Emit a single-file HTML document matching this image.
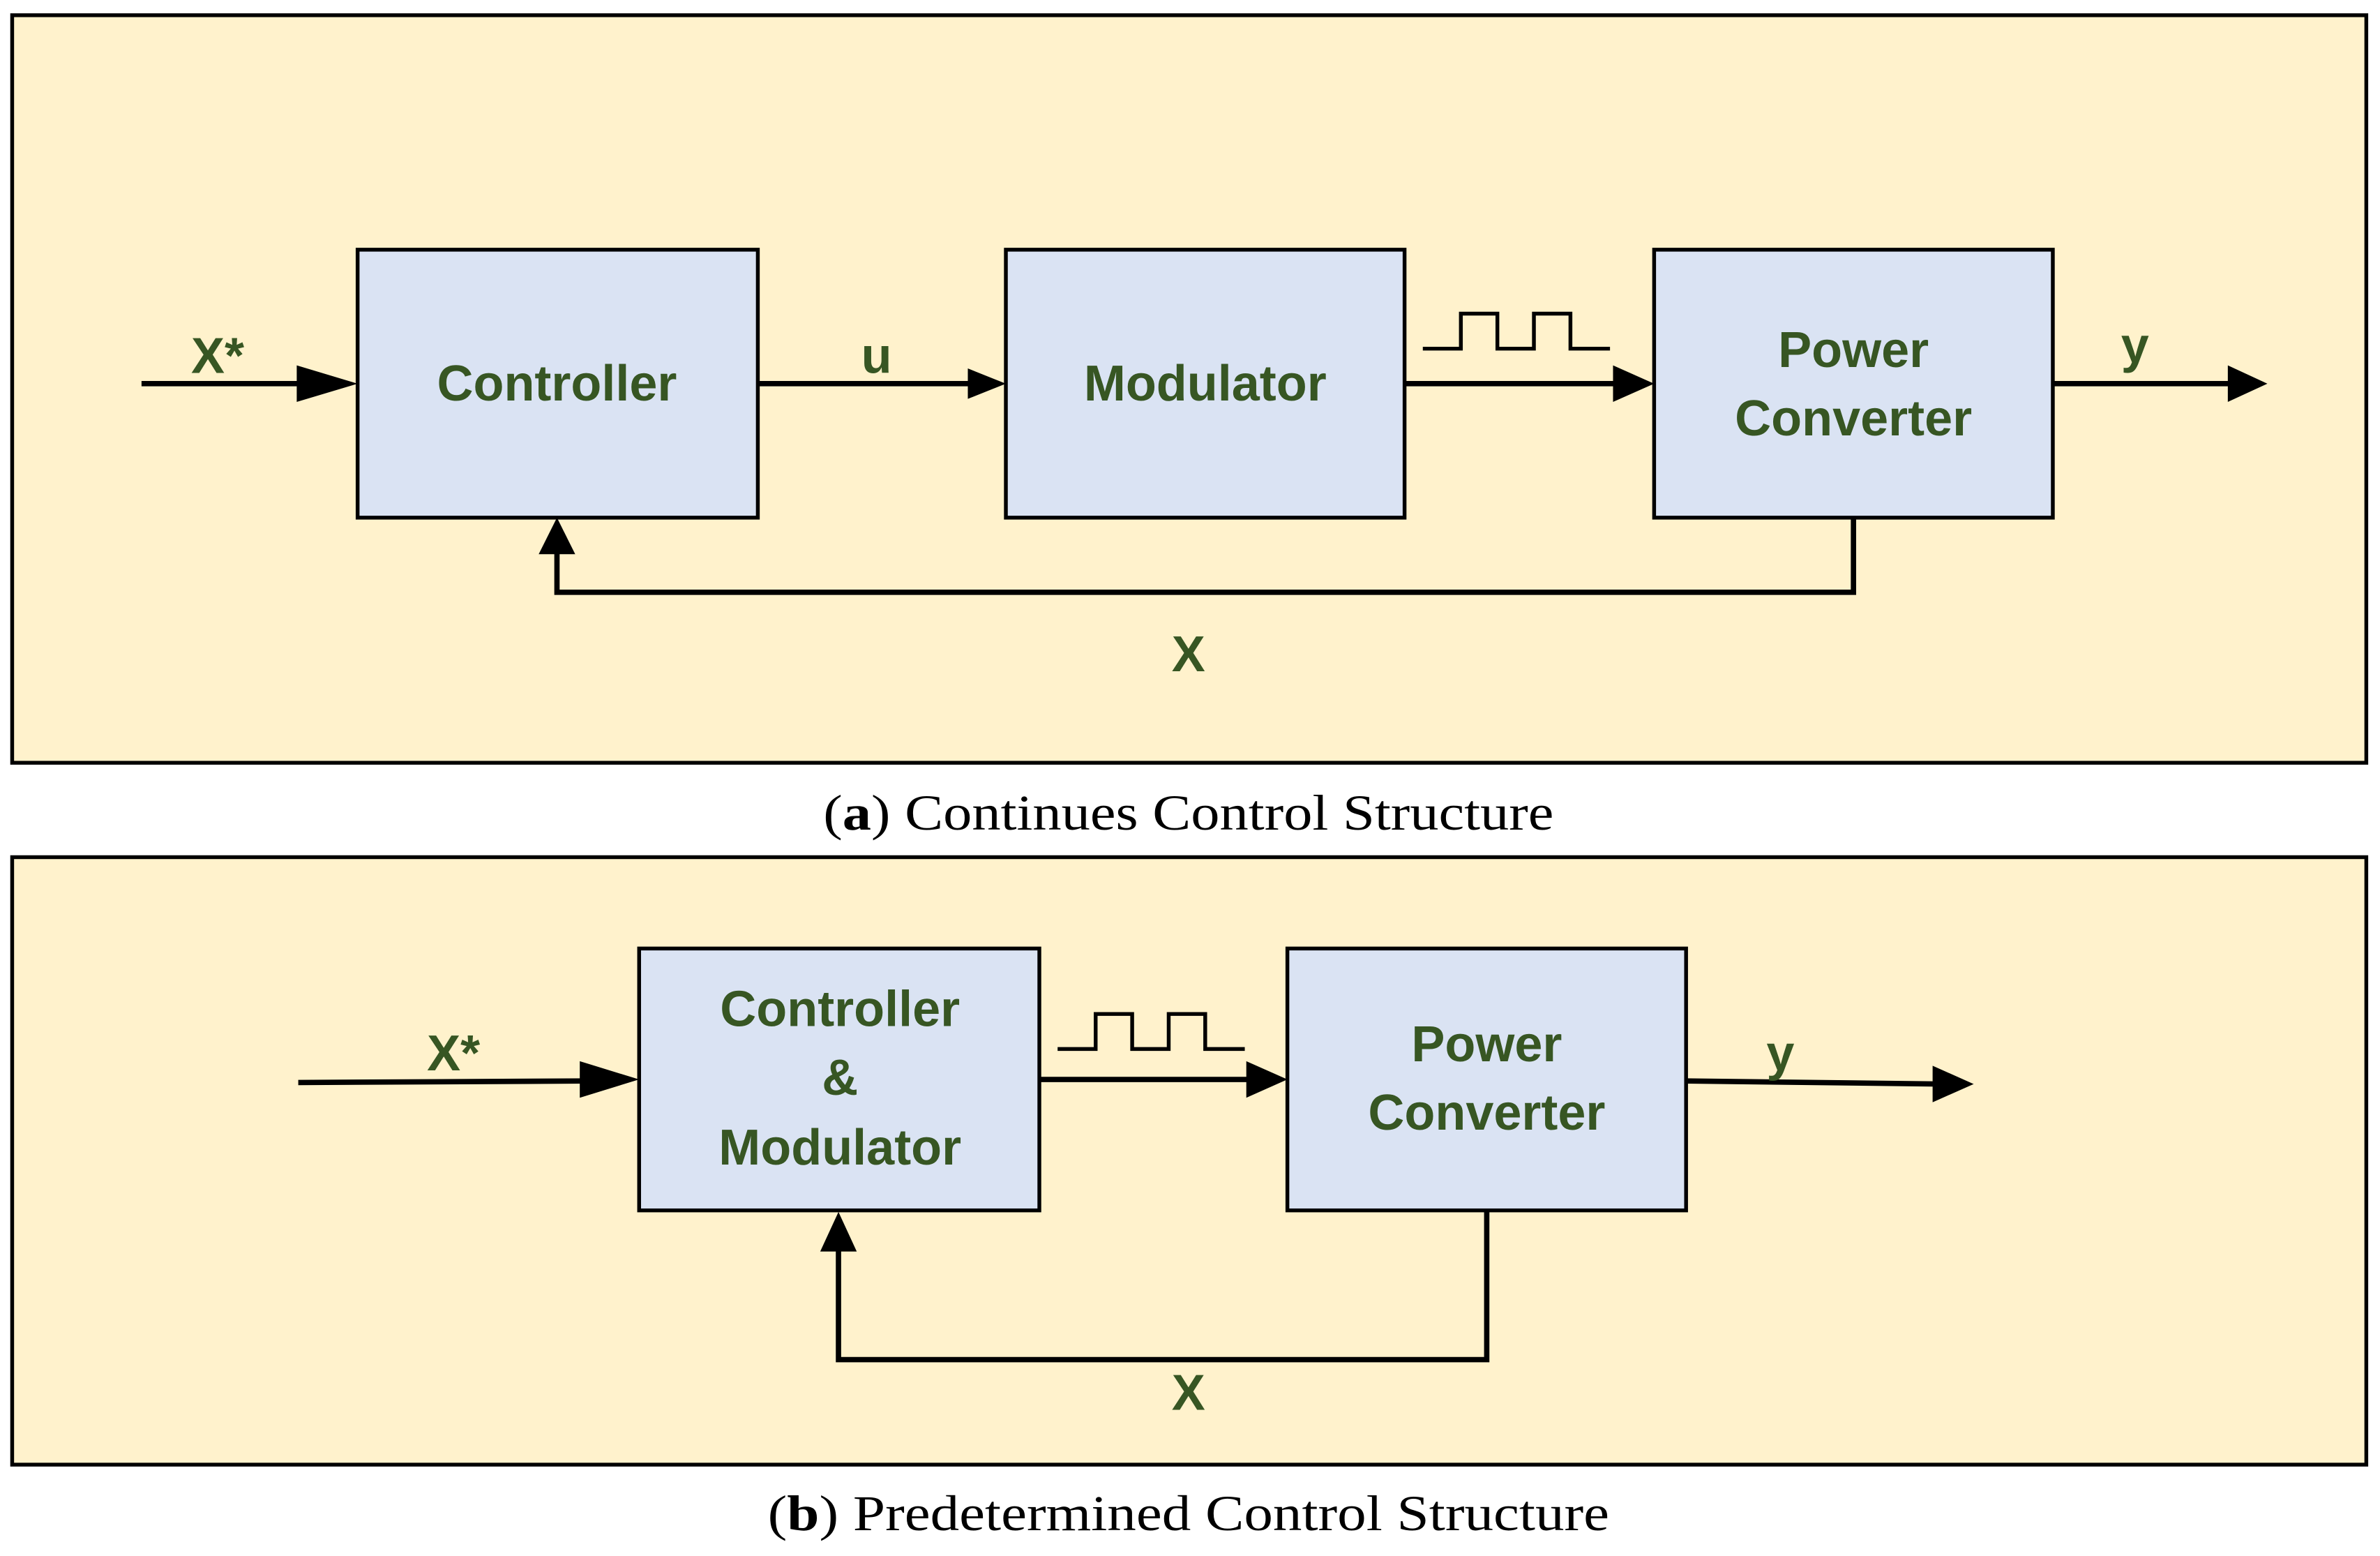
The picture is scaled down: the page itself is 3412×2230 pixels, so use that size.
<!DOCTYPE html>
<html><head><meta charset="utf-8"><style>
html,body{margin:0;padding:0;background:#fff}
svg{display:block}
.t{font-family:"Liberation Sans",sans-serif;font-weight:bold;fill:#375623;font-size:33px;text-anchor:middle}
.c{font-family:"Liberation Serif",serif;font-size:33px;fill:#000;text-anchor:middle}
</style></head><body>
<svg width="3412" height="2230" viewBox="0 0 1564 1022" preserveAspectRatio="none" xmlns="http://www.w3.org/2000/svg">
<g stroke="#000" stroke-width="2.5">
<rect x="8" y="10" width="1547" height="491" fill="#fff2cc"/>
<rect x="8" y="563" width="1547" height="399" fill="#fff2cc"/>
<rect x="235" y="164" width="263" height="176" fill="#dae3f3"/>
<rect x="661" y="164" width="262" height="176" fill="#dae3f3"/>
<rect x="1087" y="164" width="262" height="176" fill="#dae3f3"/>
<rect x="420" y="623" width="263" height="172" fill="#dae3f3"/>
<rect x="846" y="623" width="262" height="172" fill="#dae3f3"/>
</g>
<g stroke="#000" stroke-width="3.5" fill="none">
<line x1="93" y1="252" x2="197" y2="252"/>
<path d="M195,240 L235,252 L195,264 z" fill="#000" stroke="none"/>
<line x1="498" y1="252" x2="640" y2="252"/>
<path d="M636,242 L661,252 L636,262 z" fill="#000" stroke="none"/>
<line x1="923" y1="252" x2="1065" y2="252"/>
<path d="M1060,240 L1087,252 L1060,264 z" fill="#000" stroke="none"/>
<line x1="1349" y1="252" x2="1468" y2="252"/>
<path d="M1464,240 L1490,252 L1464,264 z" fill="#000" stroke="none"/>
<polyline points="1218,340 1218,389 366,389 366,362"/>
<path d="M354,364 L366,340 L378,364 z" fill="#000" stroke="none"/>
<line x1="196" y1="711" x2="385" y2="710"/>
<path d="M381,697 L420,709 L381,721 z" fill="#000" stroke="none"/>
<line x1="683" y1="709" x2="822" y2="709"/>
<path d="M819,697 L846,709 L819,721 z" fill="#000" stroke="none"/>
<line x1="1108" y1="710" x2="1274" y2="712"/>
<path d="M1270,700 L1297,712 L1270,724 z" fill="#000" stroke="none"/>
<polyline points="977,795 977,893 551,893 551,820"/>
<path d="M539,822 L551,796 L563,822 z" fill="#000" stroke="none"/>
</g>
<g stroke="#000" stroke-width="2.5" fill="none">
<polyline points="935,229 960,229 960,206 984,206 984,229 1008,229 1008,206 1032,206 1032,229 1058,229"/>
<polyline points="695,689 720,689 720,666 744,666 744,689 768,689 768,666 792,666 792,689 818,689"/>
</g>
<text class="t" x="143" y="245">X*</text>
<text class="t" x="366" y="263">Controller</text>
<text class="t" x="576" y="245">u</text>
<text class="t" x="792" y="263">Modulator</text>
<text class="t" x="1218" y="241">Power</text>
<text class="t" x="1218" y="286">Converter</text>
<text class="t" x="1403" y="238">y</text>
<text class="t" x="781" y="441">X</text>
<text class="c" x="781" y="545" textLength="480" lengthAdjust="spacingAndGlyphs">(<tspan font-weight="bold">a</tspan>) Continues Control Structure</text>
<text class="t" x="298" y="703">X*</text>
<text class="t" x="552" y="674">Controller</text>
<text class="t" x="552" y="719">&amp;</text>
<text class="t" x="552" y="765">Modulator</text>
<text class="t" x="977" y="697">Power</text>
<text class="t" x="977" y="742">Converter</text>
<text class="t" x="1170" y="703">y</text>
<text class="t" x="781" y="926">X</text>
<text class="c" x="781" y="1005" textLength="553" lengthAdjust="spacingAndGlyphs">(<tspan font-weight="bold">b</tspan>) Predetermined Control Structure</text>
</svg>
</body></html>
